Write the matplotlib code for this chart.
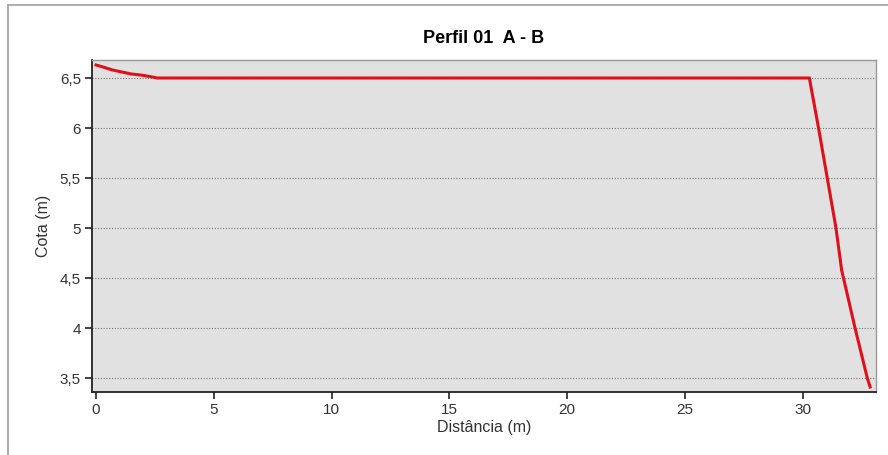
import matplotlib
matplotlib.use("Agg")
import matplotlib.pyplot as plt
from matplotlib.lines import Line2D

plt.rcParams['font.family'] = ['Liberation Sans', 'DejaVu Sans']

title = "Perfil 01  A - B"
xlabel = "Distância (m)"
ylabel = "Cota (m)"

distancia = [0.0, 0.3, 0.7, 1.1, 1.5, 1.9, 2.4, 2.6, 30.29, 30.68, 31.05, 31.42, 31.66, 32.23, 32.75, 32.87]
cota = [6.63, 6.61, 6.58, 6.56, 6.54, 6.53, 6.51, 6.5, 6.5, 6.0, 5.5, 5.0, 4.58, 4.0, 3.5, 3.41]

xticks = [0, 5, 10, 15, 20, 25, 30]
yticks = [3.5, 4, 4.5, 5, 5.5, 6, 6.5]
ytick_labels = ["3,5", "4", "4,5", "5", "5,5", "6", "6,5"]

W, H = 888, 455
fig = plt.figure(figsize=(W / 100, H / 100), dpi=100)
fig.patch.set_facecolor("white")

# outer frame lines (left and top)
fig.add_artist(Line2D([8 / W, 8 / W], [0, 1 - 5 / H], transform=fig.transFigure, color="#a0a0a0", lw=1.2))
fig.add_artist(Line2D([8 / W, 1], [1 - 5 / H, 1 - 5 / H], transform=fig.transFigure, color="#a0a0a0", lw=1.2))

left, right, top, bottom = 92, 876, 60, 392
ax = fig.add_axes([left / W, 1 - bottom / H, (right - left) / W, (bottom - top) / H])
ax.set_facecolor("#e1e1e1")

ax.plot(distancia, cota, color="#e0101a", lw=2.2, solid_joinstyle="miter")

ax.set_xlim(-0.17, 33.12)
ax.set_ylim(3.36, 6.68)
ax.set_xticks(xticks)
ax.set_yticks(yticks)
ax.set_yticklabels(ytick_labels)
ax.tick_params(axis="both", direction="out", length=5, width=1.2, labelsize=11, colors="#222222", pad=3)
ax.tick_params(axis="x", labelcolor="#333333")
ax.tick_params(axis="y", labelcolor="#333333")
ax.grid(axis="y", linestyle=(0, (1, 1.5)), color="#777777", lw=0.8)
ax.set_axisbelow(True)

for s in ["left", "bottom"]:
    ax.spines[s].set_color("#222222")
    ax.spines[s].set_linewidth(1.3)
for s in ["top", "right"]:
    ax.spines[s].set_color("#999999")
    ax.spines[s].set_linewidth(1.0)

ax.set_title(title, fontsize=13, fontweight="bold", pad=12)
ax.set_xlabel(xlabel, fontsize=11.5, color="#333333", labelpad=2)
ax.set_ylabel(ylabel, fontsize=11.5, color="#333333", labelpad=6)

fig.savefig("out.png", dpi=100)
